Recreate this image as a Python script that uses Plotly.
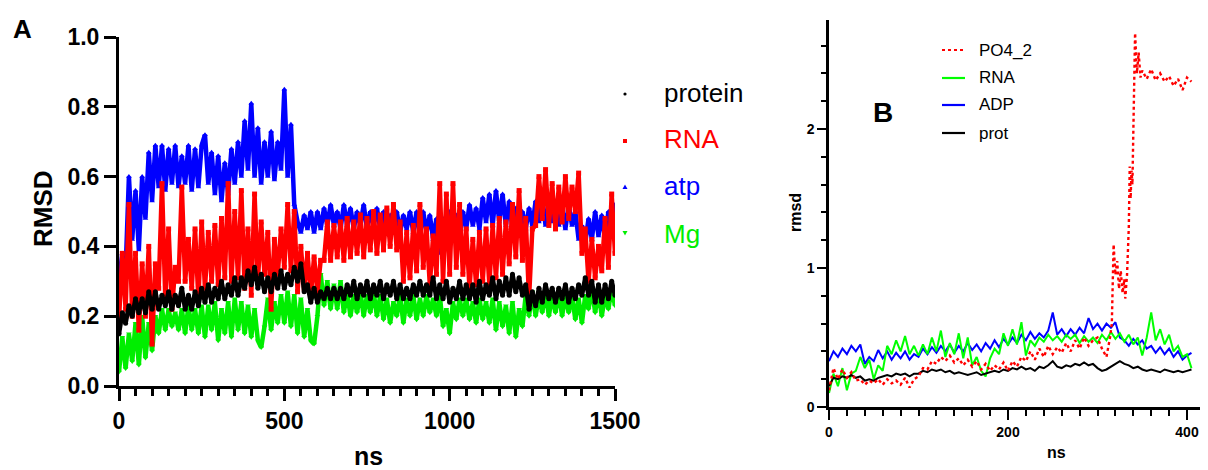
import plotly.graph_objects as go

# The page places the plot 8 px from the top-left corner of the window,
# so the figure is 8 px smaller and positions are measured from the window.
PAGE_W, PAGE_H = 1208, 470
OFF = 8
W, H = PAGE_W - OFF, PAGE_H - OFF
FONT = "Arial, Liberation Sans, sans-serif"

# ---------------- Panel A data (values every 10 ns, 0..1500) ----------------
a_step_ns = 10
protein = [
    0.15, 0.21, 0.18, 0.23, 0.20, 0.25, 0.21, 0.25, 0.21, 0.27,
    0.22, 0.27, 0.22, 0.26, 0.23, 0.27, 0.22, 0.26, 0.23, 0.28,
    0.22, 0.26, 0.22, 0.27, 0.23, 0.28, 0.24, 0.29, 0.24, 0.28,
    0.25, 0.30, 0.25, 0.29, 0.26, 0.31, 0.26, 0.31, 0.28, 0.33,
    0.29, 0.34, 0.28, 0.32, 0.27, 0.31, 0.27, 0.32, 0.28, 0.33,
    0.28, 0.32, 0.29, 0.34, 0.30, 0.35, 0.27, 0.29, 0.24, 0.28,
    0.24, 0.27, 0.25, 0.28, 0.25, 0.28, 0.25, 0.28, 0.25, 0.29,
    0.26, 0.30, 0.25, 0.29, 0.26, 0.30, 0.25, 0.29, 0.26, 0.30,
    0.25, 0.29, 0.26, 0.30, 0.25, 0.29, 0.25, 0.28, 0.25, 0.29,
    0.26, 0.30, 0.26, 0.29, 0.26, 0.31, 0.25, 0.29, 0.25, 0.30,
    0.24, 0.28, 0.25, 0.30, 0.25, 0.29, 0.25, 0.29, 0.24, 0.30,
    0.25, 0.29, 0.26, 0.31, 0.25, 0.30, 0.26, 0.31, 0.26, 0.32,
    0.27, 0.31, 0.26, 0.29, 0.22, 0.27, 0.23, 0.28, 0.24, 0.29,
    0.25, 0.28, 0.24, 0.28, 0.25, 0.29, 0.24, 0.28, 0.25, 0.29,
    0.26, 0.31, 0.26, 0.30, 0.24, 0.29, 0.24, 0.29, 0.25, 0.30,
    0.26,
]
rna_a = [
    0.19, 0.38, 0.22, 0.52, 0.20, 0.38, 0.16, 0.35, 0.20, 0.40,
    0.12, 0.35, 0.28, 0.58, 0.25, 0.45, 0.22, 0.34, 0.30, 0.57,
    0.30, 0.42, 0.28, 0.45, 0.25, 0.47, 0.28, 0.44, 0.30, 0.46,
    0.29, 0.48, 0.31, 0.58, 0.30, 0.50, 0.31, 0.56, 0.28, 0.45,
    0.26, 0.55, 0.30, 0.47, 0.32, 0.44, 0.22, 0.42, 0.32, 0.45,
    0.34, 0.52, 0.33, 0.50, 0.27, 0.40, 0.28, 0.38, 0.26, 0.37,
    0.27, 0.36, 0.36, 0.47, 0.36, 0.46, 0.37, 0.47, 0.36, 0.48,
    0.37, 0.47, 0.38, 0.49, 0.37, 0.48, 0.39, 0.50, 0.38, 0.49,
    0.39, 0.51, 0.40, 0.52, 0.39, 0.47, 0.30, 0.44, 0.31, 0.46,
    0.33, 0.52, 0.34, 0.45, 0.29, 0.43, 0.32, 0.58, 0.30, 0.55,
    0.32, 0.58, 0.34, 0.52, 0.32, 0.45, 0.28, 0.42, 0.29, 0.44,
    0.30, 0.45, 0.29, 0.46, 0.31, 0.48, 0.32, 0.47, 0.35, 0.52,
    0.37, 0.56, 0.36, 0.48, 0.25, 0.45, 0.46, 0.60, 0.48, 0.62,
    0.46, 0.58, 0.45, 0.57, 0.47, 0.60, 0.48, 0.57, 0.50, 0.61,
    0.38, 0.45, 0.30, 0.42, 0.31, 0.40, 0.33, 0.48, 0.34, 0.55,
    0.38,
]
atp = [
    0.30, 0.38, 0.33, 0.60, 0.42, 0.56, 0.39, 0.60, 0.48, 0.67,
    0.53, 0.69, 0.57, 0.69, 0.56, 0.68, 0.58, 0.69, 0.57, 0.66,
    0.58, 0.69, 0.56, 0.68, 0.57, 0.69, 0.72, 0.58, 0.67, 0.55,
    0.66, 0.53, 0.64, 0.55, 0.68, 0.58, 0.70, 0.60, 0.76, 0.62,
    0.81, 0.60, 0.74, 0.58, 0.70, 0.60, 0.73, 0.59, 0.70, 0.62,
    0.85, 0.60, 0.75, 0.52, 0.47, 0.44, 0.49, 0.45, 0.50, 0.44,
    0.50, 0.45, 0.51, 0.46, 0.52, 0.46, 0.50, 0.45, 0.52, 0.46,
    0.51, 0.45, 0.50, 0.46, 0.52, 0.45, 0.50, 0.46, 0.51, 0.45,
    0.50, 0.44, 0.49, 0.45, 0.50, 0.44, 0.49, 0.45, 0.50, 0.44,
    0.50, 0.43, 0.50, 0.44, 0.49, 0.42, 0.48, 0.38, 0.48, 0.43,
    0.50, 0.44, 0.49, 0.43, 0.50, 0.45, 0.52, 0.46, 0.51, 0.45,
    0.54, 0.47, 0.55, 0.46, 0.56, 0.47, 0.55, 0.46, 0.53, 0.45,
    0.51, 0.44, 0.50, 0.45, 0.51, 0.46, 0.53, 0.47, 0.54, 0.46,
    0.52, 0.47, 0.53, 0.46, 0.51, 0.45, 0.52, 0.46, 0.50, 0.42,
    0.46, 0.41, 0.48, 0.42, 0.50, 0.43, 0.49, 0.42, 0.50, 0.44,
    0.52,
]
mg = [
    0.04, 0.14, 0.05, 0.15, 0.07, 0.18, 0.06, 0.20, 0.08, 0.18,
    0.10, 0.20, 0.15, 0.22, 0.16, 0.22, 0.17, 0.21, 0.16, 0.22,
    0.15, 0.23, 0.16, 0.22, 0.15, 0.23, 0.14, 0.23, 0.16, 0.24,
    0.13, 0.22, 0.15, 0.24, 0.14, 0.25, 0.16, 0.24, 0.15, 0.23,
    0.14, 0.22, 0.13, 0.11, 0.17, 0.25, 0.16, 0.24, 0.18, 0.26,
    0.18, 0.27, 0.17, 0.26, 0.15, 0.25, 0.14, 0.22, 0.13, 0.12,
    0.20, 0.32, 0.23, 0.30, 0.22, 0.29, 0.22, 0.30, 0.21, 0.27,
    0.20, 0.26, 0.21, 0.27, 0.20, 0.26, 0.21, 0.27, 0.20, 0.26,
    0.19, 0.25, 0.18, 0.24, 0.20, 0.26, 0.18, 0.25, 0.20, 0.26,
    0.19, 0.25, 0.20, 0.26, 0.21, 0.25, 0.20, 0.26, 0.17, 0.22,
    0.15, 0.24, 0.19, 0.25, 0.20, 0.25, 0.19, 0.24, 0.18, 0.25,
    0.19, 0.24, 0.18, 0.25, 0.16, 0.24, 0.17, 0.23, 0.15, 0.24,
    0.14, 0.22, 0.17, 0.26, 0.20, 0.27, 0.20, 0.26, 0.21, 0.27,
    0.20, 0.26, 0.21, 0.27, 0.20, 0.26, 0.21, 0.26, 0.19, 0.25,
    0.18, 0.26, 0.22, 0.28, 0.21, 0.27, 0.20, 0.26, 0.22, 0.28,
    0.23,
]
a_ticks_x = [0, 500, 1000, 1500]
a_ticks_y = [0.0, 0.2, 0.4, 0.6, 0.8, 1.0]

# ---------------- Panel B data (values every 5 ns, 0..405) ----------------
b_step_ns = 5
adp = [
    0.33, 0.40, 0.36, 0.42, 0.38, 0.44, 0.40, 0.45, 0.31, 0.36,
    0.33, 0.41, 0.35, 0.40, 0.34, 0.39, 0.35, 0.40, 0.34, 0.38,
    0.36, 0.42, 0.38, 0.43, 0.39, 0.44, 0.40, 0.45, 0.39, 0.44,
    0.40, 0.46, 0.41, 0.45, 0.40, 0.46, 0.42, 0.48, 0.43, 0.49,
    0.45, 0.50, 0.46, 0.52, 0.48, 0.54, 0.49, 0.53, 0.50, 0.55,
    0.68, 0.52, 0.56, 0.51, 0.56, 0.52, 0.57, 0.53, 0.64, 0.56,
    0.60, 0.55, 0.60, 0.57, 0.61, 0.50, 0.48, 0.44, 0.49, 0.45,
    0.48, 0.42, 0.44, 0.39, 0.43, 0.38, 0.42, 0.36, 0.40, 0.34,
    0.37, 0.39,
]
rna_b = [
    0.10, 0.24, 0.15, 0.28, 0.12, 0.24, 0.26, 0.36, 0.28, 0.34,
    0.20, 0.30, 0.26, 0.44, 0.38, 0.48, 0.40, 0.51, 0.38, 0.44,
    0.37, 0.45, 0.38, 0.50, 0.40, 0.55, 0.36, 0.46, 0.38, 0.53,
    0.35, 0.50, 0.30, 0.36, 0.26, 0.22, 0.35, 0.42, 0.38, 0.53,
    0.44, 0.56, 0.45, 0.61, 0.37, 0.48, 0.44, 0.50, 0.47, 0.52,
    0.48, 0.51, 0.47, 0.52, 0.49, 0.52, 0.46, 0.51, 0.47, 0.50,
    0.46, 0.52, 0.48, 0.54, 0.49, 0.53, 0.47, 0.52, 0.45, 0.50,
    0.37, 0.50, 0.68, 0.48, 0.56, 0.45, 0.52, 0.40, 0.44, 0.36,
    0.38, 0.28,
]
prot = [
    0.15, 0.21, 0.20, 0.22, 0.21, 0.23, 0.21, 0.22, 0.19, 0.20,
    0.19, 0.21, 0.22, 0.23, 0.22, 0.24, 0.23, 0.24, 0.22, 0.24,
    0.24, 0.26, 0.25, 0.27, 0.26, 0.27, 0.25, 0.26, 0.24, 0.25,
    0.24, 0.23, 0.24, 0.25, 0.23, 0.24, 0.25, 0.26, 0.25, 0.27,
    0.26, 0.28, 0.27, 0.29, 0.27, 0.28, 0.26, 0.29, 0.28, 0.30,
    0.33, 0.29, 0.28, 0.30, 0.29, 0.31, 0.30, 0.32, 0.30, 0.31,
    0.28, 0.26, 0.27, 0.29, 0.31, 0.33, 0.31, 0.30, 0.28, 0.29,
    0.27, 0.26, 0.27, 0.26, 0.25, 0.27, 0.26, 0.25, 0.26, 0.25,
    0.26, 0.27,
]
po4_ns = [
    0, 5, 10, 15, 20, 25, 30, 35, 40, 45,
    50, 55, 60, 65, 70, 75, 80, 85, 90, 95,
    100, 105, 110, 115, 120, 125, 130, 135, 140, 145,
    150, 155, 160, 165, 170, 175, 180, 185, 190, 195,
    200, 205, 210, 215, 220, 225, 230, 235, 240, 245,
    250, 255, 260, 265, 270, 275, 280, 285, 290, 295,
    300, 305, 310, 314, 316, 318, 320, 322, 324, 326,
    328, 330, 331, 333, 335, 336, 337, 338, 339, 340,
    341, 342, 344, 346, 348, 350, 355, 360, 365, 370,
    375, 380, 385, 390, 395, 400, 405,
]
po4 = [
    0.12, 0.28, 0.20, 0.27, 0.21, 0.25, 0.19, 0.20, 0.16, 0.19,
    0.17, 0.20, 0.16, 0.20, 0.17, 0.19, 0.16, 0.21, 0.14, 0.20,
    0.22, 0.28, 0.27, 0.33, 0.31, 0.36, 0.33, 0.37, 0.32, 0.35,
    0.30, 0.34, 0.29, 0.33, 0.27, 0.31, 0.26, 0.30, 0.27, 0.32,
    0.26, 0.33, 0.29, 0.36, 0.33, 0.40, 0.34, 0.42, 0.36, 0.44,
    0.38, 0.43, 0.39, 0.46, 0.40, 0.48, 0.42, 0.50, 0.44, 0.48,
    0.50, 0.42, 0.36, 0.50, 0.60, 1.17, 0.95, 1.05, 0.85, 0.98,
    0.82, 0.92, 0.78, 0.95, 1.30, 1.73, 1.50, 1.70, 1.60, 2.10,
    2.50, 2.69, 2.40, 2.55, 2.37, 2.42, 2.36, 2.43, 2.35, 2.40,
    2.34, 2.38, 2.31, 2.36, 2.28, 2.37, 2.34,
]
b_ticks_x = [0, 200, 400]
b_ticks_y = [0, 1, 2]

a_ns = [i * a_step_ns for i in range(len(protein))]
b_ns = [i * b_step_ns for i in range(len(adp))]


def X(px):
    return (px - OFF) / W


def Y(py):
    return 1 - (py - OFF) / H


fig = go.Figure()

# Panel A (drawn bottom-to-top so protein sits on top)
a_series = [
    ("Mg", mg, "#00ee00", "triangle-down", 5),
    ("atp", atp, "#0000ff", "triangle-up", 5),
    ("RNA", rna_a, "#ff0000", "square", 5),
    ("protein", protein, "#000000", "circle", 5),
]
for name, vals, col, sym, ms in a_series:
    fig.add_trace(go.Scatter(
        x=a_ns, y=vals, mode="lines+markers", name=name, showlegend=False,
        line=dict(color=col, width=4.5),
        marker=dict(symbol=sym, size=ms, color=col, line=dict(width=0)),
        xaxis="x", yaxis="y",
    ))

# Panel B
b_series = [
    ("ADP", b_ns, adp, "#0000ff", "solid"),
    ("RNA", b_ns, rna_b, "#00ff00", "solid"),
    ("prot", b_ns, prot, "#000000", "solid"),
    ("PO4_2", po4_ns, po4, "#ff0000", "dot"),
]
for name, xs, vals, col, dash in b_series:
    fig.add_trace(go.Scatter(
        x=xs, y=vals, mode="lines", name=name, showlegend=False,
        line=dict(color=col, width=2 if dash == "solid" else 2.4, dash=dash),
        xaxis="x2", yaxis="y2",
    ))

boldA = dict(family=FONT, size=23, color="black", weight="bold")
boldB = dict(family=FONT, size=14, color="black", weight="bold")

common = dict(showgrid=False, zeroline=False, automargin=False,
              showline=True, linecolor="black", ticks="outside",
              tickcolor="black")

# panel B: 0 ns at x=829 px, 400 ns at x=1187 px (keeps the "400" label visible)
b_px_per_ns = (1187 - 829) / 400

fig.update_layout(
    template="none",
    width=W, height=H,
    margin=dict(l=0, r=0, t=0, b=0, pad=0, autoexpand=False),
    paper_bgcolor="white", plot_bgcolor="white",
    showlegend=False,
    xaxis=dict(
        common, domain=[X(119), X(615)], range=[0, 1500], anchor="y",
        linewidth=3, ticklen=12, tickwidth=3,
        tickvals=a_ticks_x, tickfont=boldA,
        minor=dict(ticks="outside", dtick=50, tick0=0, ticklen=7,
                   tickwidth=2.5, tickcolor="black", showgrid=False),
    ),
    yaxis=dict(
        common, domain=[Y(386), Y(37)], range=[0, 1.0], anchor="x",
        linewidth=3, ticklen=12, tickwidth=3,
        tickvals=a_ticks_y, tickformat=".1f", tickfont=boldA,
    ),
    xaxis2=dict(
        common, domain=[X(829), 1.0], range=[0, (PAGE_W - 829) / b_px_per_ns],
        anchor="y2",
        linewidth=2.5, ticklen=10, tickwidth=2,
        tickvals=b_ticks_x, tickfont=boldB,
        minor=dict(ticks="outside", dtick=20, tick0=0, ticklen=6,
                   tickwidth=2, tickcolor="black", showgrid=False),
    ),
    yaxis2=dict(
        common, domain=[Y(407), Y(20)], range=[0, 2.784], anchor="x2",
        linewidth=2.5, ticklen=9, tickwidth=2,
        tickvals=b_ticks_y, tickfont=boldB,
        minor=dict(ticks="outside", dtick=0.2, tick0=0, ticklen=5,
                   tickwidth=2, tickcolor="black", showgrid=False),
    ),
)

annotations = []
shapes = []


def ann(text, x, y, size, color="black", bold=False, angle=0, xanchor="center"):
    annotations.append(dict(
        text=text, x=X(x), y=Y(y), xref="paper", yref="paper",
        xanchor=xanchor, yanchor="middle", showarrow=False, textangle=angle,
        font=dict(family=FONT, size=size, color=color,
                  weight="bold" if bold else "normal"),
    ))


# Panel A texts
ann("A", 22, 29, 26, bold=True)
ann("RMSD", 43, 209, 26, bold=True, angle=-90)
ann("ns", 368, 456, 25, bold=True)

# Panel A legend
legA = [("protein", "#000000", 93), ("RNA", "#ff0000", 139),
        ("atp", "#0000ff", 186), ("Mg", "#00ee00", 234)]
for txt, col, yy in legA:
    ann(txt, 662, yy, 26, color=col, xanchor="left")
mx = 625
shapes.append(dict(type="circle", xref="paper", yref="paper",
                   x0=X(mx - 1.6), x1=X(mx + 1.6), y0=Y(94 + 1.6), y1=Y(94 - 1.6),
                   fillcolor="black", line=dict(width=0)))
shapes.append(dict(type="rect", xref="paper", yref="paper",
                   x0=X(mx - 2), x1=X(mx + 2), y0=Y(141 + 2), y1=Y(141 - 2),
                   fillcolor="#ff0000", line=dict(width=0)))
shapes.append(dict(type="path", xref="paper", yref="paper",
                   path=f"M {X(mx-2.5)} {Y(189)} L {X(mx+2.5)} {Y(189)} L {X(mx)} {Y(184.5)} Z",
                   fillcolor="#0000ff", line=dict(width=0)))
shapes.append(dict(type="path", xref="paper", yref="paper",
                   path=f"M {X(mx-2.5)} {Y(231)} L {X(mx+2.5)} {Y(231)} L {X(mx)} {Y(235.5)} Z",
                   fillcolor="#00ee00", line=dict(width=0)))

# Panel B texts
ann("B", 883, 112, 28, bold=True)
ann("rmsd", 795, 213, 16, bold=True, angle=-90)
ann("ns", 1056, 452, 16, bold=True)

legB = [("PO4_2", "#ff0000", 50, "dot"), ("RNA", "#00ff00", 78, "solid"),
        ("ADP", "#0000ff", 105, "solid"), ("prot", "#000000", 133, "solid")]
for txt, col, yy, dash in legB:
    ann(txt, 977, yy, 17, xanchor="left")
    shapes.append(dict(type="line", xref="paper", yref="paper",
                       x0=X(942), x1=X(965), y0=Y(yy), y1=Y(yy),
                       line=dict(color=col, width=2.2, dash=dash)))

fig.update_layout(annotations=annotations, shapes=shapes)
fig.write_html("out.html")
